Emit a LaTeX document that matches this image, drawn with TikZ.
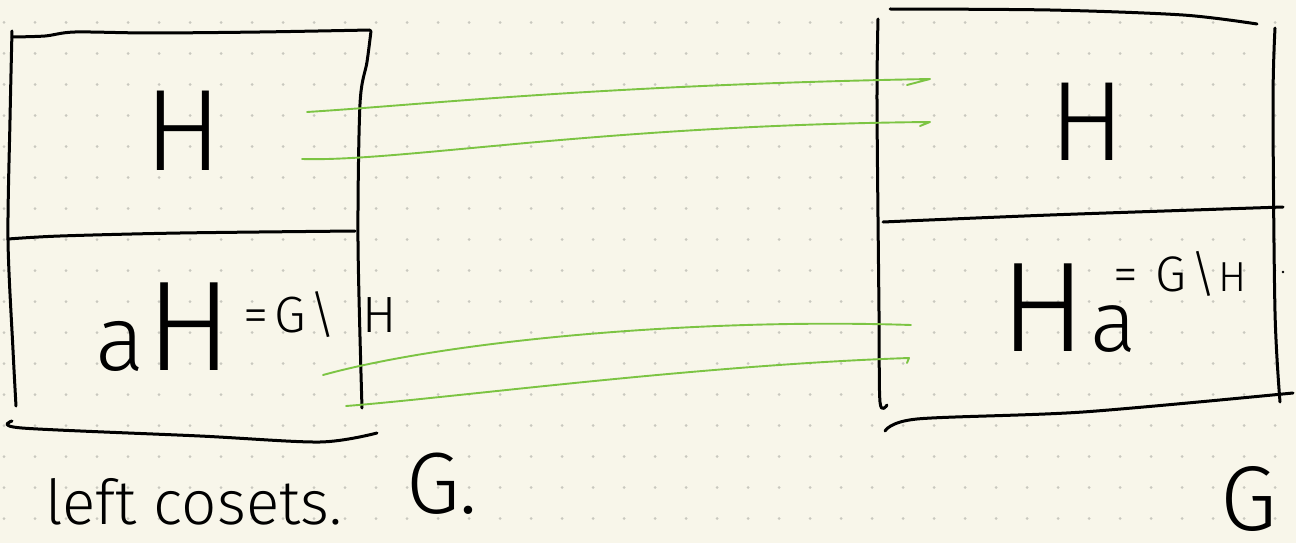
\documentclass[tikz,border=0pt]{standalone}
\usepackage{fontspec}
\setmainfont{Fira Sans}[UprightFont=* Light]
\definecolor{paper}{HTML}{F8F6EA}
\definecolor{griddot}{HTML}{C9C8BF}
\definecolor{linkgreen}{HTML}{7CC443}
\newcommand{\fs}[1]{\fontsize{#1}{#1}\selectfont}
\begin{document}
\begin{tikzpicture}[x=1pt,y=-1pt,
  ink/.style={line width=3pt,line cap=round,line join=round},
  link/.style={draw=linkgreen,line width=1.9pt,line cap=round,line join=round},
  lbl/.style={inner sep=0pt,outer sep=0pt}]
\fill[paper] (0,0) rectangle (1296,543);
\useasboundingbox (0,0) rectangle (1296,543);
% dotted notebook grid
\foreach \i in {0,...,41}
  \foreach \j in {0,...,16}
    \fill[griddot] ({4+31*\i},{22.5+31*\j}) circle (1.5);

% ---- left box: G split into left cosets ----
\draw[ink] plot[smooth] coordinates {(12,37) (45,36) (75,32) (150,33) (260,32) (370,30)};
\draw[ink] plot[smooth] coordinates {(12,31) (10,120) (8,240) (13,350) (16,406)};
\draw[ink] plot[smooth] coordinates {(371,31) (367,62) (360,104) (358,242) (362,408)};
\draw[ink] plot[smooth] coordinates {(8,239) (60,236) (180,233) (355,231)};
\draw[ink] plot[smooth] coordinates {(12,421) (22,428) (200,436) (320,442) (377,433)};

\node[lbl] (lH) at (183,131) {\fs{116}H};
\node[lbl,anchor=base west] (laH) at (95,370) {{\fs{92}a}\kern2pt{\fs{128}H}};
\node[lbl,anchor=base west] (lsup) at (243,332) {\fs{51}=\kern6pt G\kern4pt\textbackslash\kern26pt H};
\node[lbl,anchor=base west] (lcap) at (45,524) {\fs{62}left cosets.};
\node[lbl,anchor=base west] (lG) at (406,513) {\fs{87}G.};

% ---- right box: G split into right cosets ----
\draw[ink] plot[smooth] coordinates {(890,9) (1050,10) (1183,15) (1257,24)};
\draw[ink] plot[smooth] coordinates {(878,19) (877,104) (879,312) (880,402) (887,405)};
\draw[ink] plot[smooth] coordinates {(1275,28) (1273,104) (1275,312) (1280,402)};
\draw[ink] plot[smooth] coordinates {(883,222) (1050,215) (1283,207)};
\draw[ink] plot[smooth] coordinates {(885,431) (917,419) (1083,412) (1293,393)};

\node[lbl] (rH) at (1087,122) {\fs{113}H};
\node[lbl,anchor=base west] (rH2) at (1000,351) {\fs{128}H};
\node[lbl,anchor=base west] (ra) at (1090,351) {\fs{86}a};
\node[lbl,anchor=base west] (rsup) at (1113,291) {\fs{50}=\kern18pt G\kern4pt\textbackslash\kern2pt{\fs{42}H}};
\fill (1283,272) circle (1.3);
\node[lbl,anchor=base west] (rG) at (1220,530) {\fs{92}G};

% ---- green maps between cosets ----
\coordinate (a1) at (307,112); \coordinate (b1) at (930,79);
\coordinate (a2) at (302,159); \coordinate (b2) at (930,122);
\coordinate (a3) at (323,375); \coordinate (b3) at (911,325);
\coordinate (a4) at (346,406); \coordinate (b4) at (909,358);
\draw[link] (a1) .. controls (420,105) and (600,85) .. (b1) -- (907,85);
\draw[link] (a2) .. controls (400,162) and (600,125) .. (b2) -- (920,126);
\draw[link] (a3) .. controls (450,340) and (700,318) .. (b3);
\draw[link] (a4) .. controls (450,398) and (700,365) .. (b4) -- (907,363);
\end{tikzpicture}
\end{document}
